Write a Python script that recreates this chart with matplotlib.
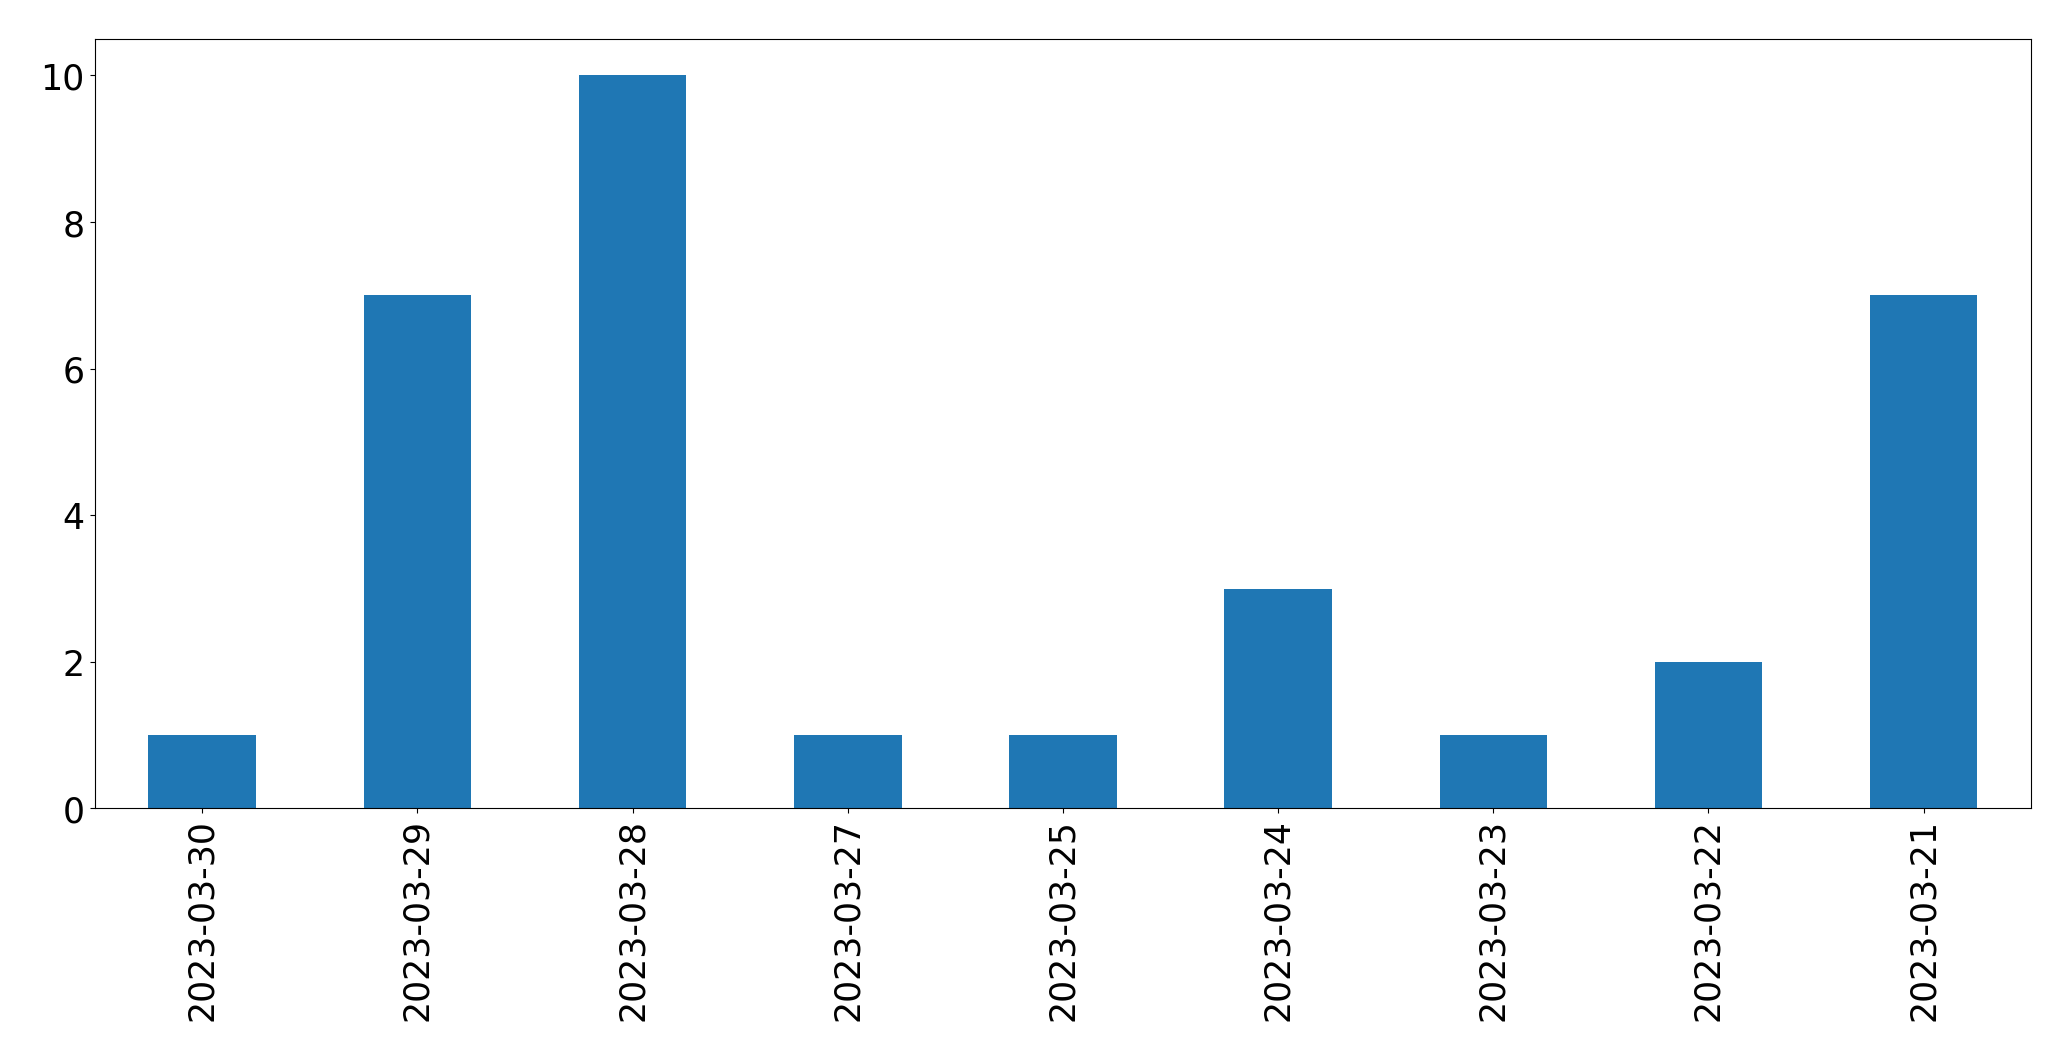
import matplotlib
matplotlib.use("Agg")
import matplotlib.pyplot as plt

dates = ["2023-03-30", "2023-03-29", "2023-03-28", "2023-03-27", "2023-03-25",
         "2023-03-24", "2023-03-23", "2023-03-22", "2023-03-21"]
counts = [1, 7, 10, 1, 1, 3, 1, 2, 7]

fig = plt.figure(figsize=(20.71, 10.605), dpi=100)
ax = fig.add_axes([0.0457, 0.2372, 0.9351, 0.7257])

x = range(len(dates))
ax.bar(x, counts, width=0.5, color="#1f77b4")
ax.set_xlim(-0.5, len(dates) - 0.5)
ax.set_ylim(0, 10.5)
ax.set_xticks(list(x))
ax.set_xticklabels(dates, rotation=90)
ax.tick_params(axis="both", labelsize=25, length=5.3 / 100 * 72)

fig.savefig("out.png", dpi=100)
